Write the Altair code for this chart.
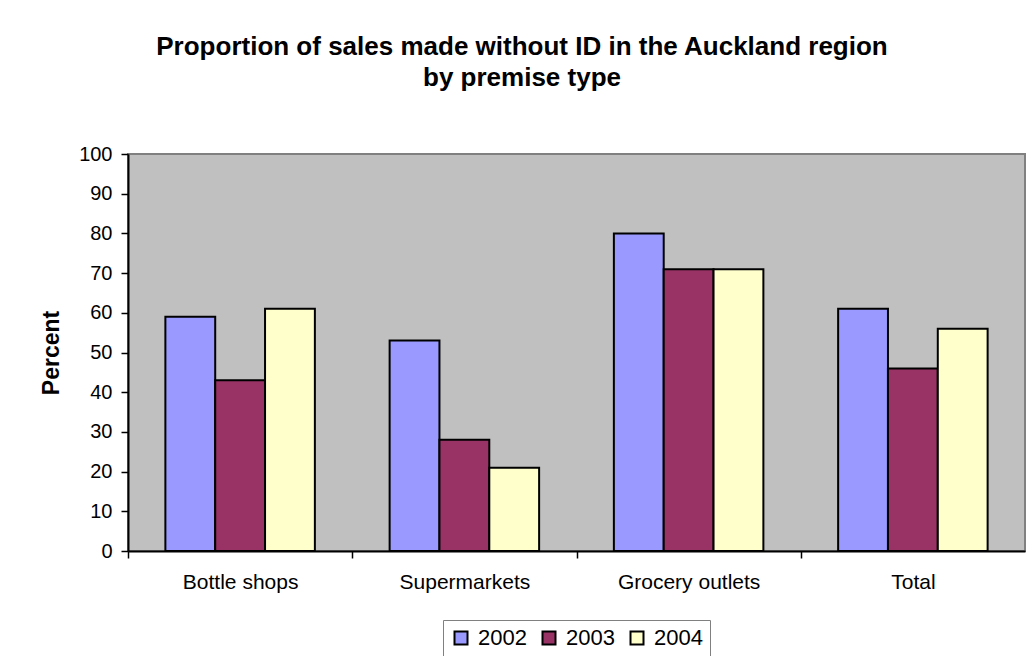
import altair as alt
import pandas as pd

categories = ["Bottle shops", "Supermarkets", "Grocery outlets", "Total"]
years = ["2002", "2003", "2004"]
values_2002 = [59, 53, 80, 61]
values_2003 = [43, 28, 71, 46]
values_2004 = [61, 21, 71, 56]
colors = ["#9999FF", "#993366", "#FFFFCC"]
y_ticks = list(range(0, 101, 10))

rows = []
for yr, vals in zip(years, [values_2002, values_2003, values_2004]):
    for c, v in zip(categories, vals):
        rows.append({"premise": c, "year": yr, "percent": v})
df = pd.DataFrame(rows)

FONT = "Liberation Sans"
W, H = 897, 397
step = W / len(categories)

chart = alt.Chart(df).mark_bar(stroke="black", strokeWidth=2).encode(
    x=alt.X("premise:N", sort=categories,
            scale=alt.Scale(paddingInner=1/3, paddingOuter=1/6),
            axis=alt.Axis(title=None, labelAngle=0, labelFontSize=21, labelFont=FONT,
                          labelColor="black", domainColor="black", domainWidth=2,
                          tickColor="black", tickWidth=1.5, tickSize=7,
                          tickOffset=-step / 2, labelOffset=step / 2, labelPadding=13)),
    xOffset=alt.XOffset("year:N", sort=years, scale=alt.Scale(paddingInner=0, paddingOuter=0)),
    y=alt.Y("percent:Q", scale=alt.Scale(domain=[0, 100], nice=False),
            axis=alt.Axis(title="Percent", values=y_ticks, grid=False, labelFontSize=20,
                          labelFont=FONT, labelColor="black", titleFont=FONT,
                          titleFontSize=23, titleFontWeight="bold", titleColor="black",
                          titlePadding=15, domainColor="black", domainWidth=2,
                          tickColor="black", tickWidth=1.5, tickSize=7, labelPadding=9)),
    fill=alt.Fill("year:N", sort=years, scale=alt.Scale(domain=years, range=colors),
                  legend=alt.Legend(title=None, orient="none", direction="horizontal",
                                    legendX=315, legendY=466, symbolType="square",
                                    symbolSize=169, symbolStrokeColor="black",
                                    symbolStrokeWidth=2, labelFontSize=22, labelFont=FONT,
                                    labelColor="black", labelOffset=6, columnPadding=11,
                                    padding=7, strokeColor="#808080", fillColor="white")),
).properties(
    width=W, height=H,
    title=alt.TitleParams(
        text=["Proportion of sales made without ID in the Auckland region", "by premise type"],
        font=FONT, fontSize=26, fontWeight="bold", color="black", lineHeight=31,
        anchor="middle", frame="group", offset=53, dx=-54.5),
    padding={"left": 120, "top": 146, "right": 3, "bottom": 105},
    autosize=alt.AutoSizeParams(type="none"),
    background="white",
).configure_view(
    fill="#C0C0C0", stroke="#808080", strokeWidth=2
)

chart.save("out.html", embed_options={"renderer": "svg", "actions": False})
